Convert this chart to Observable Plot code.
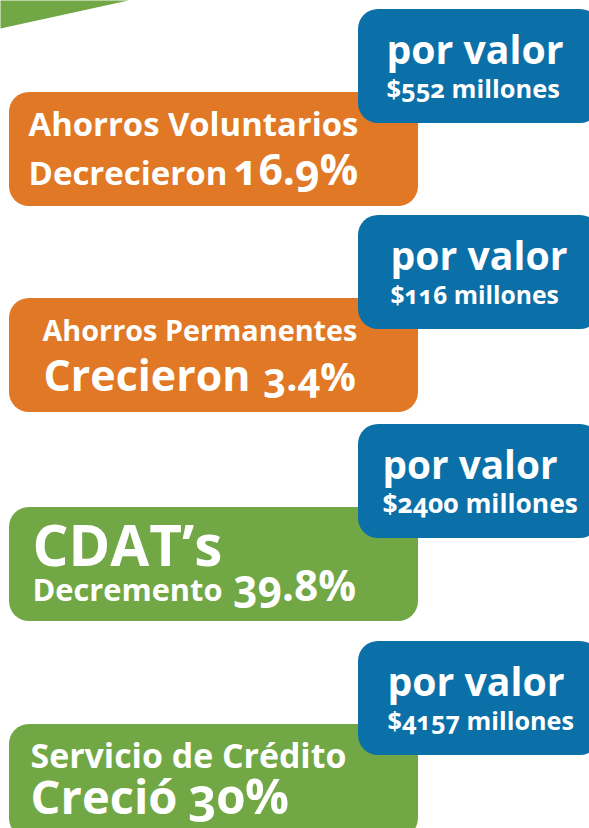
<!DOCTYPE html>
<html>
<head>
<meta charset="utf-8">
<script src="https://cdn.jsdelivr.net/npm/d3@7"></script>
<script src="https://cdn.jsdelivr.net/npm/@observablehq/plot@0.6"></script>
<style>
  html, body { margin: 0; padding: 0; background: #ffffff; }
  #chart svg { display: block; }
</style>
</head>
<body>
<div id="chart"></div>
<script>
// ---- data ----
const categories = ["Ahorros Voluntarios", "Ahorros Permanentes", "CDAT\u2019s", "Servicio de Cr\u00e9dito"];
const verbs = ["Decrecieron", "Crecieron", "Decremento", "Creci\u00f3"];
const changePct = [16.9, 3.4, 39.8, 30];
const amountMillions = [552, 116, 2400, 4157];
const amountPrefix = "por valor";
const amountUnit = "millones";

// ---- layout / style (not data) ----
const W = 589, H = 828;
const FONT_NAME = "'Open Sans'";
const FONT = "'Open Sans', 'Noto Sans', sans-serif";
const WEIGHT = 700;
const ORANGE = "#e07826", GREEN = "#71a745", BLUE = "#0b70a7";
const boxColors = [ORANGE, ORANGE, GREEN, GREEN];
const blueTop = [9, 215, 424, 641];
const boxH = 114, mainOffset = 83;
const mainX = [9, 418], blueX = [358, 600];

const ctx = document.createElement("canvas").getContext("2d");
function fitSize(t, width) {
  ctx.font = `${WEIGHT} 100px ${FONT_NAME}`;
  return 100 * width / ctx.measureText(t).width;
}

const boxes = categories.map((c, i) => ({
  cat: c, x1: mainX[0], x2: mainX[1], y1: blueTop[i] + mainOffset, y2: blueTop[i] + mainOffset + boxH, fill: boxColors[i]
}));
const valueBoxes = categories.map((c, i) => ({
  cat: c, x1: blueX[0], x2: blueX[1], y1: blueTop[i], y2: blueTop[i] + boxH
}));

// per-box text arrangement: [x, width] spans and baselines
const textLayout = [
  {l: [28, 330], ly: 135, v: [28, 199], p: [233, 124], vy: 184, pv: [386, 177], am: [386, 173]},
  {l: [42, 315], ly: 340, v: [43, 207], p: [263, 92], vy: 390, pv: [390, 177], am: [390, 168]},
  {l: [32, 190], ly: 565, v: [32, 190], p: [233, 122], vy: 600, pv: [382, 175], am: [382, 195]},
  {l: [30, 316], ly: 767, v: [30, 147], p: [188, 100], vy: 813, pv: [387, 177], am: [387, 186]}
];
const texts = [];
categories.forEach((c, i) => {
  const s = textLayout[i];
  const pct = `${changePct[i]}%`;
  const amt = `$${amountMillions[i]} ${amountUnit}`;
  texts.push({t: c, x: s.l[0], y: s.ly, size: fitSize(c, s.l[1])});
  texts.push({t: verbs[i], x: s.v[0], y: s.vy, size: fitSize(verbs[i], s.v[1])});
  texts.push({t: pct, x: s.p[0], y: s.vy, size: fitSize(pct, s.p[1])});
  texts.push({t: amountPrefix, x: s.pv[0], y: blueTop[i] + 54, size: fitSize(amountPrefix, s.pv[1])});
  texts.push({t: amt, x: s.am[0], y: blueTop[i] + 88, size: fitSize(amt, s.am[1])});
});
const corner = [{x: 0, y: 0}, {x: 128, y: 0}, {x: 0, y: 28}];

const plot = Plot.plot({
  width: W, height: H,
  margin: 0,
  x: {domain: [0, W], range: [0, W], axis: null},
  y: {domain: [0, H], range: [0, H], axis: null},
  style: {background: "#ffffff", fontFamily: FONT},
  marks: [
    Plot.line(corner, {x: "x", y: "y", fill: GREEN, stroke: "none"}),
    Plot.rect(boxes, {x1: "x1", x2: "x2", y1: "y1", y2: "y2", fill: "fill", rx: 20}),
    Plot.rect(valueBoxes, {x1: "x1", x2: "x2", y1: "y1", y2: "y2", fill: BLUE, rx: 20}),
    Plot.text(texts, {x: "x", y: "y", text: "t", fontSize: "size", textAnchor: "start", lineAnchor: "bottom", fill: "white", fontWeight: WEIGHT, fontVariant: "oldstyle-nums"})
  ]
});
document.getElementById("chart").appendChild(plot);
</script>
</body>
</html>
